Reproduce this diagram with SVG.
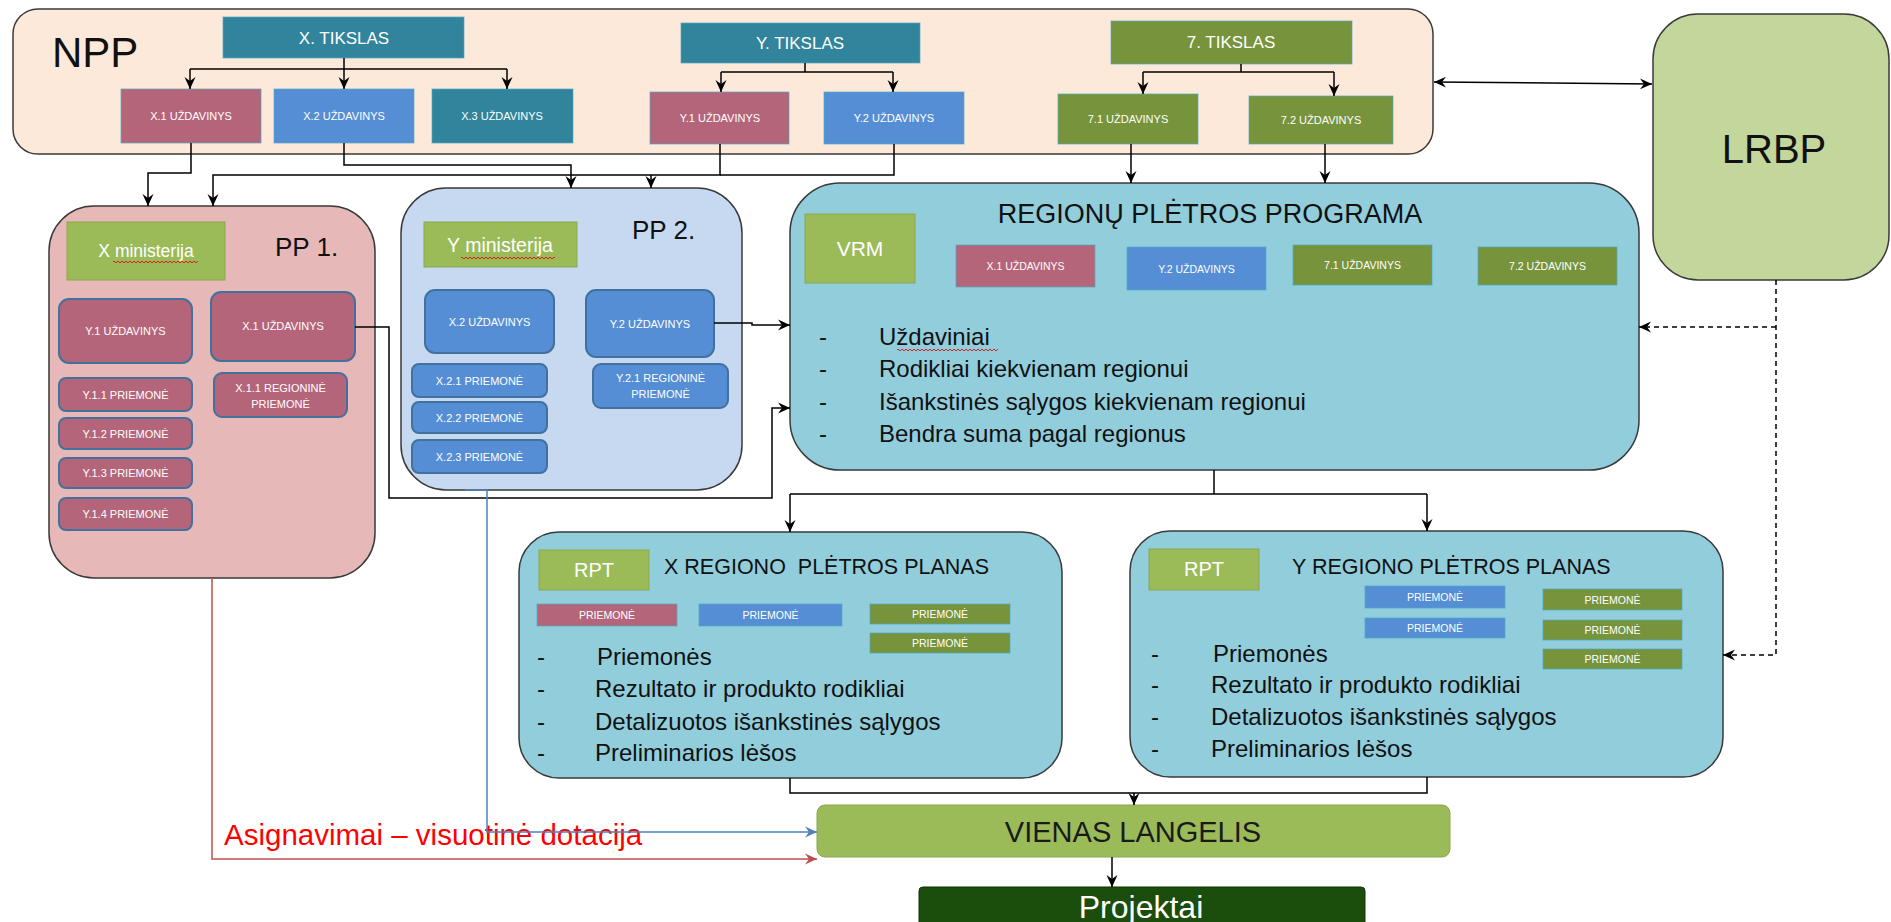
<svg xmlns="http://www.w3.org/2000/svg" width="1891" height="922" viewBox="0 0 1891 922">
<style>
  text { font-family: "Liberation Sans", Arial, sans-serif; }
  .big { stroke: #3a3a3a; stroke-width: 1.5; }
  .sq { stroke: #4bacc6; stroke-width: 1; stroke-opacity: 0.7; }
  .rr { stroke: #41719c; stroke-width: 2; }
  .mau { fill: #b5657a; }
  .blu { fill: #558ed5; }
  .tea { fill: #31849b; }
  .olv { fill: #77933c; }
  .lg { fill: #9bbb59; stroke: #8aa84f; stroke-width: 1; }
  .w { fill: #ffffff; text-anchor: middle; }
  .s11 { font-size: 11px; }
  .s10 { font-size: 10.5px; }
  .s17 { font-size: 17px; }
  .bl { font-size: 24px; fill: #111; }
  .hd { fill: #111; }
  .ln { fill: none; stroke: #000; stroke-width: 1.5; }
  .dash { fill: none; stroke: #000; stroke-width: 1.5; stroke-dasharray: 5 4; }
</style>
<defs>
  <marker id="ah" viewBox="0 0 12 12" refX="12" refY="6" markerWidth="12" markerHeight="12" markerUnits="userSpaceOnUse" orient="auto-start-reverse">
    <path d="M0,0.5 L12,6 L0,11.5 L4,6 z" fill="#000"/>
  </marker>
  <marker id="ahB" viewBox="0 0 12 12" refX="12" refY="6" markerWidth="12" markerHeight="12" markerUnits="userSpaceOnUse" orient="auto">
    <path d="M0,0.5 L12,6 L0,11.5 L4,6 z" fill="#4f81bd"/>
  </marker>
  <marker id="ahR" viewBox="0 0 12 12" refX="12" refY="6" markerWidth="12" markerHeight="12" markerUnits="userSpaceOnUse" orient="auto">
    <path d="M0,0.5 L12,6 L0,11.5 L4,6 z" fill="#c0504d"/>
  </marker>
  <pattern id="squig" x="0" y="0" width="4" height="4" patternUnits="userSpaceOnUse">
    <path d="M0,3 L2,1 L4,3" fill="none" stroke="#e02020" stroke-width="1"/>
  </pattern>
</defs>

<!-- NPP -->
<g id="npp">
  <rect x="13" y="9" width="1420" height="145" rx="25" fill="#fde9d9" class="big"/>
  <text x="52" y="67" font-size="42" class="hd">NPP</text>
</g>
<g id="x-tikslas"><rect x="223" y="17" width="241" height="41" class="tea sq"/><text x="344" y="44" class="w s17">X. TIKSLAS</text></g>
<g id="y-tikslas"><rect x="681" y="23" width="239" height="40" class="tea sq"/><text x="800" y="49" class="w s17">Y. TIKSLAS</text></g>
<g id="7-tikslas"><rect x="1111" y="21" width="241" height="43" class="olv sq"/><text x="1231" y="48" class="w s17">7. TIKSLAS</text></g>

<g id="npp-x1"><rect x="121" y="89" width="140" height="54" class="mau sq"/><text x="191" y="120" class="w s11">X.1 UŽDAVINYS</text></g>
<g id="npp-x2"><rect x="274" y="89" width="140" height="54" class="blu sq"/><text x="344" y="120" class="w s11">X.2 UŽDAVINYS</text></g>
<g id="npp-x3"><rect x="432" y="89" width="141" height="54" class="tea sq"/><text x="502" y="120" class="w s11">X.3 UŽDAVINYS</text></g>
<g id="npp-y1"><rect x="650" y="92" width="139" height="52" class="mau sq"/><text x="720" y="122" class="w s11">Y.1 UŽDAVINYS</text></g>
<g id="npp-y2"><rect x="824" y="92" width="140" height="52" class="blu sq"/><text x="894" y="122" class="w s11">Y.2 UŽDAVINYS</text></g>
<g id="npp-71"><rect x="1058" y="94" width="140" height="50" class="olv sq"/><text x="1128" y="123" class="w s11">7.1 UŽDAVINYS</text></g>
<g id="npp-72"><rect x="1249" y="96" width="144" height="48" class="olv sq"/><text x="1321" y="124" class="w s11">7.2 UŽDAVINYS</text></g>

<!-- LRBP -->
<g id="lrbp">
  <rect x="1653" y="14" width="236" height="266" rx="45" fill="#c3d69b" class="big"/>
  <text x="1774" y="163" font-size="40" text-anchor="middle" class="hd">LRBP</text>
</g>

<!-- PP1 -->
<g id="pp1">
  <rect x="49" y="206" width="326" height="372" rx="45" fill="#e6b9b8" class="big"/>
  <rect x="67" y="222" width="158" height="58" class="lg"/>
  <text x="146" y="257" font-size="17.5" class="w">X ministerija</text>
  <rect x="113" y="260" width="85" height="4" fill="url(#squig)"/>
  <text x="275" y="256" font-size="26" class="hd">PP 1.</text>
  <rect x="59" y="299" width="133" height="64" rx="10" class="mau rr"/>
  <text x="125.5" y="335" class="w s11">Y.1 UŽDAVINYS</text>
  <rect x="211" y="292" width="144" height="69" rx="10" class="mau rr"/>
  <text x="283" y="330" class="w s11">X.1 UŽDAVINYS</text>
  <rect x="59" y="378" width="133" height="33" rx="7" class="mau rr"/>
  <text x="125.5" y="398.5" class="w s11">Y.1.1 PRIEMONĖ</text>
  <rect x="59" y="418" width="133" height="31" rx="7" class="mau rr"/>
  <text x="125.5" y="437.5" class="w s11">Y.1.2 PRIEMONĖ</text>
  <rect x="59" y="458" width="133" height="30" rx="7" class="mau rr"/>
  <text x="125.5" y="477" class="w s11">Y.1.3 PRIEMONĖ</text>
  <rect x="59" y="498" width="133" height="32" rx="7" class="mau rr"/>
  <text x="125.5" y="518" class="w s11">Y.1.4 PRIEMONĖ</text>
  <rect x="214" y="373" width="133" height="44" rx="8" class="mau rr"/>
  <text x="280.5" y="392" class="w s11">X.1.1 REGIONINĖ</text>
  <text x="280.5" y="408" class="w s11">PRIEMONĖ</text>
</g>

<!-- PP2 -->
<g id="pp2">
  <rect x="401" y="188" width="341" height="302" rx="45" fill="#c6d9f1" class="big"/>
  <rect x="424" y="222" width="153" height="45" class="lg"/>
  <text x="500" y="252" font-size="19.5" class="w">Y ministerija</text>
  <rect x="461" y="255" width="94" height="4" fill="url(#squig)"/>
  <text x="632" y="239" font-size="26" class="hd">PP 2.</text>
  <rect x="425" y="290" width="129" height="63" rx="10" class="blu rr"/>
  <text x="489.5" y="326" class="w s11">X.2 UŽDAVINYS</text>
  <rect x="586" y="290" width="128" height="67" rx="10" class="blu rr"/>
  <text x="650" y="328" class="w s11">Y.2 UŽDAVINYS</text>
  <rect x="412" y="364" width="135" height="33" rx="7" class="blu rr"/>
  <text x="479.5" y="384.5" class="w s11">X.2.1 PRIEMONĖ</text>
  <rect x="412" y="402" width="135" height="31" rx="7" class="blu rr"/>
  <text x="479.5" y="421.5" class="w s11">X.2.2 PRIEMONĖ</text>
  <rect x="412" y="440" width="135" height="33" rx="7" class="blu rr"/>
  <text x="479.5" y="460.5" class="w s11">X.2.3 PRIEMONĖ</text>
  <rect x="593" y="364" width="135" height="44" rx="8" class="blu rr"/>
  <text x="660.5" y="382" class="w s11">Y.2.1 REGIONINĖ</text>
  <text x="660.5" y="398" class="w s11">PRIEMONĖ</text>
</g>

<!-- RPP -->
<g id="rpp">
  <rect x="790" y="183" width="849" height="287" rx="50" fill="#92cddc" class="big"/>
  <text x="1210" y="223" font-size="27" text-anchor="middle" class="hd">REGIONŲ PLĖTROS PROGRAMA</text>
  <rect x="805" y="214" width="110" height="69" class="lg"/>
  <text x="860" y="256" font-size="21" class="w">VRM</text>
  <rect x="956" y="245" width="139" height="42" class="mau sq"/>
  <text x="1025.5" y="270" class="w s10">X.1 UŽDAVINYS</text>
  <rect x="1127" y="247" width="139" height="43" class="blu sq"/>
  <text x="1196.5" y="273" class="w s10">Y.2 UŽDAVINYS</text>
  <rect x="1293" y="245" width="139" height="40" class="olv sq"/>
  <text x="1362.5" y="269" class="w s10">7.1 UŽDAVINYS</text>
  <rect x="1478" y="247" width="139" height="38" class="olv sq"/>
  <text x="1547.5" y="270" class="w s10">7.2 UŽDAVINYS</text>
  <text x="819" y="345" class="bl">-</text>
  <text x="879" y="345" class="bl">Uždaviniai</text>
  <rect x="897" y="348" width="101" height="4" fill="url(#squig)"/>
  <text x="819" y="377" class="bl">-</text>
  <text x="879" y="377" class="bl">Rodikliai kiekvienam regionui</text>
  <text x="819" y="410" class="bl">-</text>
  <text x="879" y="410" class="bl">Išankstinės sąlygos kiekvienam regionui</text>
  <text x="819" y="442" class="bl">-</text>
  <text x="879" y="442" class="bl">Bendra suma pagal regionus</text>
</g>

<!-- X RPP -->
<g id="x-rpp">
  <rect x="519" y="532" width="543" height="246" rx="40" fill="#92cddc" class="big"/>
  <rect x="539" y="550" width="110" height="40" class="lg"/>
  <text x="594" y="577" font-size="20" class="w">RPT</text>
  <text x="664" y="574" font-size="21.5" class="hd" xml:space="preserve">X REGIONO  PLĖTROS PLANAS</text>
  <rect x="537" y="604" width="140" height="22" class="mau sq"/>
  <text x="607" y="619" class="w s10">PRIEMONĖ</text>
  <rect x="699" y="604" width="143" height="22" class="blu sq"/>
  <text x="770.5" y="619" class="w s10">PRIEMONĖ</text>
  <rect x="870" y="604" width="140" height="20" class="olv sq"/>
  <text x="940" y="618" class="w s10">PRIEMONĖ</text>
  <rect x="870" y="633" width="140" height="20" class="olv sq"/>
  <text x="940" y="647" class="w s10">PRIEMONĖ</text>
  <text x="537" y="665" class="bl">-</text>
  <text x="597" y="665" class="bl">Priemonės</text>
  <text x="537" y="697" class="bl">-</text>
  <text x="595" y="697" class="bl">Rezultato ir produkto rodikliai</text>
  <text x="537" y="730" class="bl">-</text>
  <text x="595" y="730" class="bl">Detalizuotos išankstinės sąlygos</text>
  <text x="537" y="761" class="bl">-</text>
  <text x="595" y="761" class="bl">Preliminarios lėšos</text>
</g>

<!-- Y RPP -->
<g id="y-rpp">
  <rect x="1130" y="531" width="593" height="246" rx="40" fill="#92cddc" class="big"/>
  <rect x="1149" y="549" width="110" height="41" class="lg"/>
  <text x="1204" y="576" font-size="20" class="w">RPT</text>
  <text x="1292" y="574" font-size="21.5" class="hd">Y REGIONO PLĖTROS PLANAS</text>
  <rect x="1365" y="586" width="140" height="22" class="blu sq"/>
  <text x="1435" y="601" class="w s10">PRIEMONĖ</text>
  <rect x="1365" y="618" width="140" height="20" class="blu sq"/>
  <text x="1435" y="632" class="w s10">PRIEMONĖ</text>
  <rect x="1543" y="589" width="139" height="21" class="olv sq"/>
  <text x="1612.5" y="603.5" class="w s10">PRIEMONĖ</text>
  <rect x="1543" y="620" width="139" height="20" class="olv sq"/>
  <text x="1612.5" y="634" class="w s10">PRIEMONĖ</text>
  <rect x="1543" y="649" width="139" height="20" class="olv sq"/>
  <text x="1612.5" y="663" class="w s10">PRIEMONĖ</text>
  <text x="1151" y="662" class="bl">-</text>
  <text x="1213" y="662" class="bl">Priemonės</text>
  <text x="1151" y="693" class="bl">-</text>
  <text x="1211" y="693" class="bl">Rezultato ir produkto rodikliai</text>
  <text x="1151" y="725" class="bl">-</text>
  <text x="1211" y="725" class="bl">Detalizuotos išankstinės sąlygos</text>
  <text x="1151" y="757" class="bl">-</text>
  <text x="1211" y="757" class="bl">Preliminarios lėšos</text>
</g>

<!-- VIENAS LANGELIS -->
<g id="vienas-langelis">
  <rect x="817" y="805" width="633" height="52" rx="8" fill="#9bbb59" stroke="#8aa84f" stroke-width="1"/>
  <text x="1133" y="842" font-size="29" text-anchor="middle" fill="#1a1a1a">VIENAS LANGELIS</text>
</g>
<g id="projektai">
  <rect x="919" y="887" width="446" height="42" rx="4" fill="#1b4d0c" stroke="#0f3306" stroke-width="1"/>
  <text x="1141" y="918" font-size="32" class="w">Projektai</text>
</g>
<g id="asignavimai-label">
  <text x="224" y="845" font-size="29.5" fill="#ff0000">Asignavimai – visuotinė dotacija</text>
</g>

<!-- Connectors -->
<g id="connectors">
  <path class="ln" d="M344,58 V69 M190,69 H507"/>
  <path class="ln" d="M190,69 V89" marker-end="url(#ah)"/>
  <path class="ln" d="M344,69 V89" marker-end="url(#ah)"/>
  <path class="ln" d="M507,69 V89" marker-end="url(#ah)"/>

  <path class="ln" d="M805,63 V72 M721,72 H893"/>
  <path class="ln" d="M721,72 V92" marker-end="url(#ah)"/>
  <path class="ln" d="M893,72 V92" marker-end="url(#ah)"/>

  <path class="ln" d="M1241,64 V72 M1143,72 H1334"/>
  <path class="ln" d="M1143,72 V94" marker-end="url(#ah)"/>
  <path class="ln" d="M1334,72 V96" marker-end="url(#ah)"/>

  <path class="ln" d="M191,143 V173 H148 V206" marker-end="url(#ah)"/>
  <path class="ln" d="M344,143 V165 H571 V188" marker-end="url(#ah)"/>
  <path class="ln" d="M720,144 V175 H213 V206" marker-end="url(#ah)"/>
  <path class="ln" d="M894,144 V175 H720"/>
  <path class="ln" d="M651,175 V188" marker-end="url(#ah)"/>

  <path class="ln" d="M1131,144 V183" marker-end="url(#ah)"/>
  <path class="ln" d="M1325,144 V183" marker-end="url(#ah)"/>

  <path class="ln" d="M1434,82 L1652,84" marker-start="url(#ah)" marker-end="url(#ah)"/>

  <path class="ln" d="M355,327 H389 V498 H772 V408 H790" marker-end="url(#ah)"/>
  <path class="ln" d="M714,323 H752 V325 H790" marker-end="url(#ah)"/>

  <path class="ln" d="M1214,470 V494 M790,494 H1427"/>
  <path class="ln" d="M790,494 V532" marker-end="url(#ah)"/>
  <path class="ln" d="M1427,494 V531" marker-end="url(#ah)"/>

  <path class="ln" d="M790,778 V793 H1427 V777"/>
  <path class="ln" d="M1134,793 V805" marker-end="url(#ah)"/>
  <path class="ln" d="M1112,857 V887" marker-end="url(#ah)"/>

  <path class="dash" d="M1776,280 V655 H1723" marker-end="url(#ah)"/>
  <path class="dash" d="M1776,327 H1639" marker-end="url(#ah)"/>

  <path d="M465,490 H487 V832 H817" fill="none" stroke="#4f81bd" stroke-width="1.5" marker-end="url(#ahB)"/>
  <path d="M212,578 V859 H817" fill="none" stroke="#c0504d" stroke-width="1.5" marker-end="url(#ahR)"/>
</g>
</svg>
